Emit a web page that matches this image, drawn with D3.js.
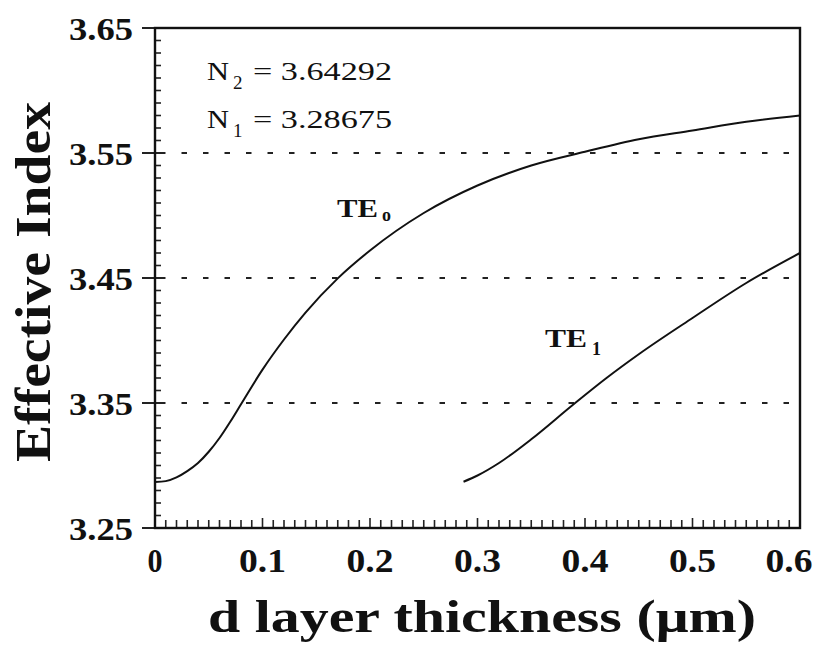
<!DOCTYPE html>
<html>
<head>
<meta charset="utf-8">
<script src="https://cdn.jsdelivr.net/npm/d3@7"></script>
<style>
html,body{margin:0;padding:0;background:#fff;}
svg{display:block;}
</style>
</head>
<body>
<svg id="chart" width="826" height="656"></svg>
<script>
// ---- data ----
const te0X = [0, 0.01, 0.02, 0.03, 0.04, 0.05, 0.06, 0.07, 0.08, 0.10, 0.12, 0.14, 0.17, 0.20, 0.25, 0.30, 0.35, 0.40, 0.45, 0.50, 0.55, 0.60];
const te0Y = [3.2868, 3.2875, 3.2905, 3.2955, 3.302, 3.311, 3.322, 3.335, 3.349, 3.3767, 3.4008, 3.4223, 3.4497, 3.472, 3.502, 3.524, 3.540, 3.551, 3.561, 3.568, 3.575, 3.580];
const te1X = [0.287, 0.30, 0.32, 0.35, 0.388, 0.42, 0.45, 0.50, 0.55, 0.60];
const te1Y = [3.287, 3.292, 3.302, 3.321, 3.348, 3.370, 3.389, 3.418, 3.446, 3.470];
const xTickLabels = ["0", "0.1", "0.2", "0.3", "0.4", "0.5", "0.6"];
const yTickLabels = ["3.25", "3.35", "3.45", "3.55", "3.65"];
const gridValues = [3.35, 3.45, 3.55];
const xTitle = "d layer thickness (\u03bcm)";
const yTitle = "Effective Index";

const FONT = "'Liberation Serif', 'Tinos', 'Times New Roman', Times, 'Nimbus Roman', 'Nimbus Roman No9 L', FreeSerif, serif";

// ---- layout ----
const svg = d3.select("#chart");
const x = d3.scaleLinear().domain([0, 0.6]).range([155, 800]);
const y = d3.scaleLinear().domain([3.25, 3.65]).range([528, 28]);

// dashed reference lines
svg.selectAll("line.grid").data(gridValues).enter().append("line")
  .attr("x1", x(0) + 5).attr("x2", x(0.6) - 10)
  .attr("y1", d => y(d)).attr("y2", d => y(d))
  .attr("stroke", "#222").attr("stroke-width", 2.2)
  .attr("stroke-dasharray", "5.5,16");

// minor ticks
const xMinor = d3.range(1, 60).map(i => i / 100);
svg.selectAll("line.xt").data(xMinor).enter().append("line")
  .attr("x1", d => x(d)).attr("x2", d => x(d))
  .attr("y1", y(3.25)).attr("y2", (d, i) => y(3.25) - ((i + 1) % 10 === 0 ? 10 : 8))
  .attr("stroke", "#222").attr("stroke-width", 1.6);
const yMinor = d3.range(26, 65).map(i => 3 + i / 100);
svg.selectAll("line.yt").data(yMinor).enter().append("line")
  .attr("x1", x(0)).attr("x2", x(0) + 6)
  .attr("y1", d => y(d)).attr("y2", d => y(d))
  .attr("stroke", "#222").attr("stroke-width", 1.6);
// major y ticks (crossing)
svg.selectAll("line.ymaj").data(yTickLabels.map(Number)).enter().append("line")
  .attr("x1", x(0) - 13).attr("x2", x(0) + 5)
  .attr("y1", d => y(d)).attr("y2", d => y(d))
  .attr("stroke", "#222").attr("stroke-width", 2);

// frame
svg.append("rect")
  .attr("x", x(0)).attr("y", y(3.65))
  .attr("width", x(0.6) - x(0)).attr("height", y(3.25) - y(3.65))
  .attr("fill", "none").attr("stroke", "#111").attr("stroke-width", 2.4);

// curves
const line = d3.line().x(d => x(d[0])).y(d => y(d[1])).curve(d3.curveMonotoneX);
svg.append("path").datum(te0X.map((v, i) => [v, te0Y[i]]))
  .attr("d", line).attr("fill", "none").attr("stroke", "#111").attr("stroke-width", 2);
svg.append("path").datum(te1X.map((v, i) => [v, te1Y[i]]))
  .attr("d", line).attr("fill", "none").attr("stroke", "#111").attr("stroke-width", 2);

function T(sel) { return sel.attr("font-family", FONT).attr("fill", "#111"); }

// y tick labels
T(svg.selectAll("text.yl").data(yTickLabels).enter().append("text"))
  .attr("x", 133).attr("y", d => y(+d) + 12)
  .attr("text-anchor", "end")
  .attr("font-size", 31).attr("font-weight", "bold")
  .attr("textLength", 64).attr("lengthAdjust", "spacingAndGlyphs")
  .text(d => d);

// x tick labels
T(svg.selectAll("text.xl").data(xTickLabels).enter().append("text"))
  .attr("x", (d, i) => x(+d) - (i === xTickLabels.length - 1 ? 11 : 0))
  .attr("y", 572)
  .attr("text-anchor", "middle")
  .attr("font-size", 33).attr("font-weight", "bold")
  .attr("textLength", d => d.length === 1 ? 15 : 47).attr("lengthAdjust", "spacingAndGlyphs")
  .text(d => d);

// axis titles
T(svg.append("text")).attr("x", 482).attr("y", 632)
  .attr("text-anchor", "middle").attr("font-size", 46).attr("font-weight", "bold")
  .attr("textLength", 548).attr("lengthAdjust", "spacingAndGlyphs")
  .text(xTitle);
T(svg.append("text"))
  .attr("transform", "translate(50,282) rotate(-90)")
  .attr("text-anchor", "middle").attr("font-size", 50).attr("font-weight", "bold")
  .attr("textLength", 360).attr("lengthAdjust", "spacingAndGlyphs")
  .text(yTitle);

// annotations
function sub(main, subTxt, x0, yb, mainSize, subSize, mainLen, subDx, subDy, bold) {
  const g = svg.append("g");
  T(g.append("text")).attr("x", x0).attr("y", yb).attr("font-size", mainSize)
    .attr("font-weight", bold ? "bold" : "normal")
    .attr("textLength", mainLen).attr("lengthAdjust", "spacingAndGlyphs").text(main);
  T(g.append("text")).attr("x", x0 + mainLen + subDx).attr("y", yb + subDy).attr("font-size", subSize)
    .attr("font-weight", bold ? "bold" : "normal").text(subTxt);
}
sub("N", "2", 207, 80, 26, 19, 22, 4, 9, false);
T(svg.append("text")).attr("x", 253).attr("y", 80).attr("font-size", 26)
  .attr("textLength", 139).attr("lengthAdjust", "spacingAndGlyphs").text("= 3.64292");
sub("N", "1", 207, 128, 26, 19, 22, 4, 9, false);
T(svg.append("text")).attr("x", 253).attr("y", 128).attr("font-size", 26)
  .attr("textLength", 139).attr("lengthAdjust", "spacingAndGlyphs").text("= 3.28675");

sub("TE", "o", 337, 217, 26, 18, 41, 4, 4, true);
sub("TE", "1", 545, 347, 26, 18, 42, 5, 8, true);
</script>
</body>
</html>
